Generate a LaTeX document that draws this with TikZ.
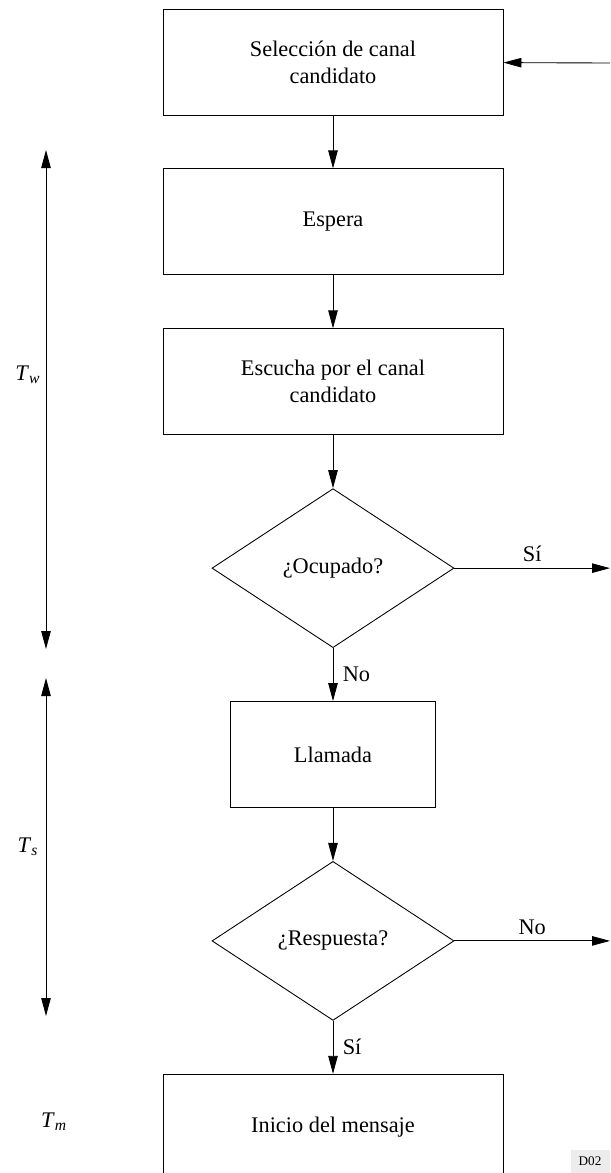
\documentclass[tikz,border=0pt]{standalone}
\usepackage{fontspec}
\setmainfont{Liberation Serif}
\usetikzlibrary{arrows.meta,positioning,shapes.geometric}

\tikzset{
  caja/.style={draw,minimum width=6.8cm,minimum height=2.12cm,align=center},
  decision/.style={draw,diamond,aspect=1.52,minimum width=4.84cm,minimum height=3.18cm,inner sep=0pt},
}

\begin{document}
\begin{tikzpicture}[node distance=1.06cm,>={Triangle[length=0.36cm,width=0.19cm]},line width=0.5pt, every node/.style={font=\fontsize{12.7}{15.3}\selectfont}]
\useasboundingbox (-6.66,1.24) rectangle (5.54,-22.22);
\node[caja] (sel) {Selección de canal\\candidato};
\node[caja,below=of sel] (esp) {Espera};
\node[caja,below=of esp] (esc) {Escucha por el canal\\candidato};
\node[decision,below=of esc] (ocu) {¿Ocupado?};
\node[caja,minimum width=4.1cm,below=of ocu] (lla) {Llamada};
\node[decision,below=of lla] (res) {¿Respuesta?};
\node[caja,below=of res] (ini) {Inicio del mensaje};
\coordinate (vuelta) at (5.54,-0.02);
\coordinate (si) at (ocu.east -| vuelta);
\coordinate (no) at (res.east -| vuelta);
\draw[->] (vuelta) -- (sel);
\draw[->] (sel) -- (esp);
\draw[->] (esp) -- (esc);
\draw[->] (esc) -- (ocu);
\draw[->] (ocu) -- node[right,xshift=2pt]{No} (lla);
\draw[->] (ocu) -- node[above]{Sí} (si);
\draw[->] (lla) -- (res);
\draw[->] (res) -- node[right,xshift=2pt]{Sí} (ini);
\draw[->] (res) -- node[above]{No} (no);
% tiempos
\coordinate (tw-a) at (-5.74,-1.76);
\coordinate (tw-b) at (-5.74,-11.74);
\coordinate (ts-a) at (-5.74,-12.32);
\coordinate (ts-b) at (-5.74,-19.08);
\draw[<->] (tw-a) -- (tw-b);
\draw[<->] (ts-a) -- (ts-b);
\node (tw) at (-6.1,-6.26) {\textit{T}\textsubscript{\textit{w}}};
\node (ts) at (-6.1,-15.7) {\textit{T}\textsubscript{\textit{s}}};
\node (tm) at (-5.58,-21.2) {\textit{T}\textsubscript{\textit{m}}};
\node[fill=gray!15,anchor=south east,minimum width=0.78cm,minimum height=0.46cm,inner sep=1pt,font=\fontsize{7.5}{8}\selectfont] (ref) at (5.54,-22.22) {D02};
\end{tikzpicture}
\end{document}
